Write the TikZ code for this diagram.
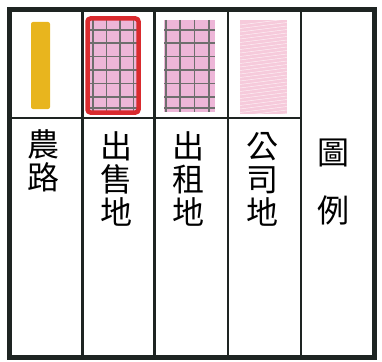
\documentclass[tikz,border=0pt]{standalone}
\usepackage{fontspec}
\newfontfamily\cjk{Noto Sans CJK TC}
\usetikzlibrary{positioning}
\definecolor{roadyellow}{HTML}{E8B51E}
\definecolor{salered}{HTML}{D92A2E}
\definecolor{lotpink}{HTML}{EDB6D8}
\definecolor{lightpink}{HTML}{F6CADB}
\definecolor{gridgray}{HTML}{6E6E6E}
\definecolor{framegray}{HTML}{1E2422}
\tikzset{
  legendtext/.style={anchor=north, align=center, inner sep=0pt, font=\cjk\fontsize{32}{33}\selectfont},
  gridline/.style={gridgray, line width=1.1pt},
}
\begin{document}
\begin{tikzpicture}[x=1pt,y=-1pt]
            \useasboundingbox (0,0) rectangle (382,361);

            % swatches
            \fill[roadyellow, rounded corners=2pt](31,22) rectangle (50,109);

            \fill[lotpink](88,19) rectangle (138,112);
            \foreach \x in {93,106.5,120,133.5} \draw[gridline](\x,19)--(\x,112);
            \foreach \y in {30,43,56.5,70,83.5,97,108} \draw[gridline](88,\y)--(138,\y);
            \draw[salered, line width=4.5pt, rounded corners=3pt](87.5,18.5) rectangle (138.5,112.5);

            \fill[lotpink](164,20) rectangle (215,112);
            \foreach \x in {166,180,194.5,209} \draw[gridline](\x,20)--(\x,112);
            \foreach \y in {30,43,56.5,70,83.5,97,108} \draw[gridline](164,\y)--(215,\y);

            \fill[lightpink](240,20) rectangle (287,114);
            \begin{scope}
                \clip (240,20) rectangle (287,114);
                \foreach \y in {22,25.5,...,118} \draw[white, line width=0.5pt, opacity=0.7](240,\y+3)--(287,\y-3);
            \end{scope}

            % frame
            \draw[framegray, line width=2.5pt](9,118)--(301,118);
            \foreach \x in {82.5,154.5,228,301} \draw[framegray, line width=2.5pt](\x,9.5)--(\x,357);
            \draw[framegray, line width=5pt](9,9.5) rectangle (374.5,357);

            % labels
            \node[legendtext] (nonglu) at (43,129) {農\\路};
            \node[legendtext] (chushou) at (116,131) {出\\售\\地};
            \node[legendtext] (chuzu) at (188,131) {出\\租\\地};
            \node[legendtext] (gongsi) at (262,132) {公\\司\\地};
            \node[legendtext] (tuli) at (333,139) {圖\\[25pt]例};

\end{tikzpicture}
\end{document}
